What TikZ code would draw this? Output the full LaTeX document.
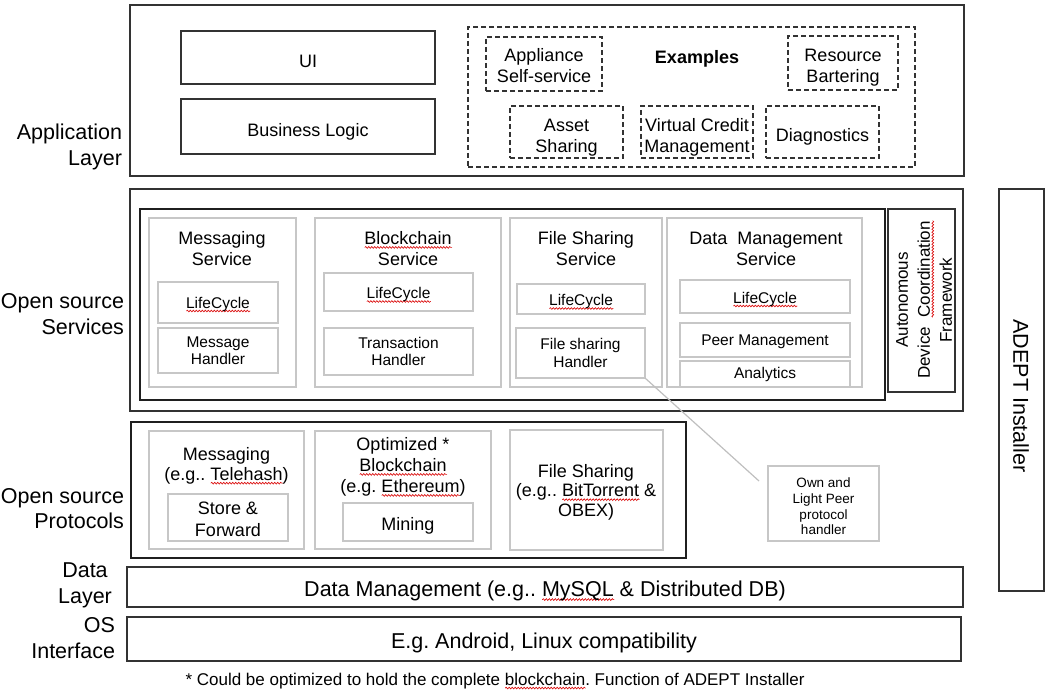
\documentclass[tikz,border=0pt]{standalone}
\usepackage{fontspec}
\setmainfont{Liberation Sans}
\usetikzlibrary{decorations.pathmorphing}
\frenchspacing
\newsavebox\wavebox
\newcommand\redwave[1]{\sbox\wavebox{#1}\rlap{\tikz[baseline=0pt]{\pgftransformreset\draw[red!85!black, line width=0.6pt, line cap=round, decorate, decoration={snake, amplitude=0.9pt, segment length=3pt}] (0pt,-3pt) -- (\wd\wavebox,-3pt);}}\usebox\wavebox}
\newcommand\fszL{\fontsize{21.5}{25.5}\selectfont}
\newcommand\fszM{\fontsize{18}{21}\selectfont}
\newcommand\fszP{\fontsize{18}{19.5}\selectfont}
\newcommand\fszQ{\fontsize{18}{22}\selectfont}
\newcommand\fszS{\fontsize{15.5}{17.5}\selectfont}
\newcommand\fszT{\fontsize{13.5}{15.7}\selectfont}
\newcommand\fszF{\fontsize{17}{20}\selectfont}
\newcommand\fszR{\fontsize{17}{22}\selectfont}
% empty box from (x1,y1) to (x2,y2): name, x1, y1, x2, y2, style
\newcommand\bb[6]{\node[#6, minimum width={(#4)-(#2)}, minimum height={(#5)-(#3)}] (#1) at ({((#2)+(#4))/2},{((#3)+(#5))/2}) {};}
% box with text: name, x1, y1, x2, y2, box style, text style, text shift down, text
\newcommand\bx[9]{\bb{#1}{#2}{#3}{#4}{#5}{#6}\node[#7] (#1t) at ({((#2)+(#4))/2},{((#3)+(#5))/2+(#8)}) {#9};}
\begin{document}
\begin{tikzpicture}[x=1pt,y=-1pt,
  every node/.style={inner sep=0pt, outer sep=0pt, align=center, text=black},
  mainbox/.style={draw=black!80, line width=1.6pt},
  heavybox/.style={draw=black!88, line width=2.2pt},
  graybox/.style={draw=black!22, line width=1.6pt},
  dashbox/.style={draw=black!80, line width=1.3pt, dash pattern=on 5pt off 3pt},
  lbl/.style={font=\fszL, align=right, anchor=east},
  conn/.style={draw=black!25, line width=1.2pt}]
\useasboundingbox (0,0) rectangle (1048,692);

% ---------- Application layer ----------
\bb{app}{130}{5}{964}{176}{mainbox}
\bx{ui}{181}{31}{435}{84}{mainbox}{font=\fszM}{4}{UI}
\bx{bl}{181}{99}{435}{154}{mainbox}{font=\fszM}{5}{Business Logic}
\bb{ex}{468}{27}{915}{167}{dashbox}
\node[font=\fszM\bfseries] (exl) at (697,59) {Examples};
\bx{aps}{486}{37}{602}{91}{dashbox}{font=\fszM}{2}{Appliance\\Self-service}
\bx{rb}{788}{36}{898}{90}{dashbox}{font=\fszM}{5}{Resource\\Bartering}
\bx{as}{510}{106}{623}{158}{dashbox}{font=\fszM}{5.5}{Asset\\Sharing}
\bx{vc}{641}{106}{753}{158}{dashbox}{font=\fszM}{5.5}{Virtual Credit\\Management}
\bx{dg}{766}{106}{879}{158}{dashbox}{font=\fszM}{5}{Diagnostics}
\node[lbl] (lapp) at (122,147) {Application\\Layer};

% ---------- Services ----------
\bb{svc}{130}{189}{963}{411}{mainbox}
\bb{svin}{140}{209}{885}{400}{heavybox}
\bb{adcf}{888}{209}{955}{392}{mainbox}
\node[rotate=90, font=\fszR] (adcft) at (924,300) {Autonomous\\Device\ \ \redwave{Coordination}\\Framework};
\node[lbl] (lsvc) at (124,314) {Open source\\Services};

\bb{ms}{149}{218}{296}{387}{graybox}
\node[font=\fszM] (mst) at (222,248.5) {Messaging\\Service};
\bx{mslc}{158}{282}{278}{323}{graybox}{font=\fszS}{2}{\redwave{LifeCycle}}
\bx{msh}{158}{328}{278}{373}{graybox}{font=\fszS}{0}{Message\\Handler}

\bb{bs}{315}{218}{501}{387}{graybox}
\node[font=\fszM] (bst) at (408,248.5) {\redwave{Blockchain}\\Service};
\bx{bslc}{324}{273}{473}{311}{graybox}{font=\fszS}{3}{\redwave{LifeCycle}}
\bx{bsh}{324}{328}{473}{375}{graybox}{font=\fszS}{0}{Transaction\\Handler}

\bb{fs}{510}{218}{662}{387}{graybox}
\node[font=\fszM] (fst) at (586,248.5) {File Sharing\\Service};
\bx{fslc}{517}{284}{645}{314}{graybox}{font=\fszS}{3}{\redwave{LifeCycle}}
\bx{fsh}{516}{328}{645}{378}{graybox}{font=\fszS}{0}{File sharing\\Handler}

\bb{dm}{667}{218}{862}{387}{graybox}
\node[font=\fszM] (dmt) at (766,248.5) {Data\ \ Management\\Service};
\bx{dmlc}{680}{280}{850}{313}{graybox}{font=\fszS}{3}{\redwave{LifeCycle}}
\bx{dmpm}{680}{323}{850}{357}{graybox}{font=\fszS}{2}{Peer Management}
\bx{dman}{680}{361}{850}{387}{graybox}{font=\fszS}{0}{Analytics}

% ---------- ADEPT installer ----------
\bb{adept}{999}{189}{1044}{591}{mainbox}
\node[rotate=-90, font=\fszL] (adeptt) at (1021,396) {ADEPT Installer};

% ---------- Protocols ----------
\bb{pr}{131}{422}{686}{558}{heavybox}
\node[lbl] (lpr) at (124,508.5) {Open source\\Protocols};
\bb{pm}{149}{431}{304}{549}{graybox}
\node[font=\fszP] (pmt) at (226.5,466) {Messaging\\(e.g.. \redwave{Telehash})};
\bx{psf}{168}{494}{288}{541}{graybox}{font=\fszQ}{2}{Store \&\\Forward}
\bb{pb}{315}{431}{491}{549}{graybox}
\node[font=\fszM] (pbt) at (403,467) {Optimized *\\\redwave{Blockchain}\\(e.g. \redwave{Ethereum})};
\bx{pmin}{343}{503}{473}{541}{graybox}{font=\fszM}{4}{Mining}
\bb{pf}{510}{430}{663}{550}{graybox}
\node[font=\fszP] (pft) at (586,492) {File Sharing\\(e.g.. \redwave{BitTorrent} \&\\OBEX)};

\bx{own}{768}{466}{879}{541}{graybox}{font=\fszT}{3}{Own and\\Light Peer\\protocol\\handler}
\coordinate (conend) at (759,481);
\draw[conn] (fsh.south east) -- (conend);

% ---------- Data / OS ----------
\bx{dl}{127}{567}{963}{607}{mainbox}{font=\fszL}{4}{Data Management (e.g.. \redwave{MySQL} \& Distributed DB)}
\node[font=\fszL] (ldl) at (85,585.5) {Data\\Layer};
\bx{os}{127}{617}{961}{661}{mainbox}{font=\fszL}{4}{E.g. Android, Linux compatibility}
\node[lbl] (los) at (115,638) {OS\\Interface};

\node[font=\fszF] (fn) at (495,681) {* Could be optimized to hold the complete \redwave{blockchain}. Function of ADEPT Installer};
\end{tikzpicture}
\end{document}
